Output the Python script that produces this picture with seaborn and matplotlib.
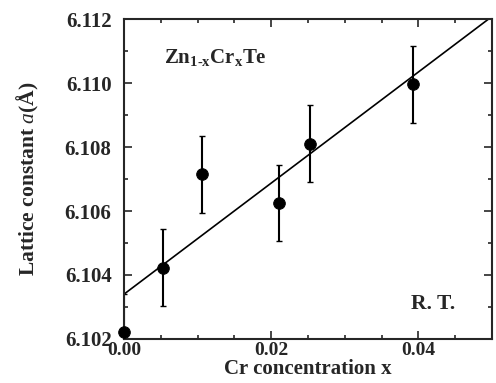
import numpy as np
import pandas as pd
import matplotlib
matplotlib.use("Agg")
import matplotlib.pyplot as plt
from matplotlib.ticker import MultipleLocator
import seaborn as sns

# data
cr_x = [0.0, 0.0053, 0.0106, 0.0210, 0.0253, 0.0393]
lattice_a = [6.10222, 6.10423, 6.10715, 6.10625, 6.10810, 6.10996]
lattice_err = [0.0012, 0.0012, 0.0012, 0.0012, 0.0012, 0.0012]
fit_x = [0.0, 0.0495]
fit_intercept = 6.1034
fit_slope = 0.1737

x_ticks = [0.00, 0.02, 0.04]
x_ticklabels = ["0.00", "0.02", "0.04"]
y_ticks = [6.102, 6.104, 6.106, 6.108, 6.110, 6.112]
y_ticklabels = ["6.102", "6.104", "6.106", "6.108", "6.110", "6.112"]

sns.set_style("ticks")
plt.rcParams['font.family'] = ['Liberation Serif', 'DejaVu Serif']
plt.rcParams['mathtext.fontset'] = 'custom'
plt.rcParams['mathtext.it'] = 'Liberation Serif:italic'
plt.rcParams['mathtext.rm'] = 'Liberation Serif'
plt.rcParams['mathtext.bf'] = 'Liberation Serif:bold'

fig = plt.figure(figsize=(4.96, 3.83), dpi=100)
ax = fig.add_axes([0.25, 0.115, 0.742, 0.835])

df = pd.DataFrame({"x": cr_x, "a": lattice_a, "err": lattice_err})
fit_df = pd.DataFrame({"x": fit_x, "a": [fit_intercept + fit_slope * v for v in fit_x]})

sns.lineplot(data=fit_df, x="x", y="a", ax=ax, color="black", linewidth=1.2)
ax.errorbar(df["x"], df["a"], yerr=df["err"], fmt="none", ecolor="black",
            elinewidth=1.5, capsize=2, capthick=1.0)
sns.scatterplot(data=df, x="x", y="a", ax=ax, color="black", s=70,
                edgecolor="black", zorder=5, clip_on=False)

ax.set_xlim(0, 0.05)
ax.set_ylim(6.102, 6.112)
ax.set_xticks(x_ticks)
ax.set_xticklabels(x_ticklabels)
ax.set_yticks(y_ticks)
ax.set_yticklabels(y_ticklabels)
ax.xaxis.set_minor_locator(MultipleLocator(0.005))
ax.yaxis.set_minor_locator(MultipleLocator(0.001))
ax.tick_params(which="both", direction="in", top=True, right=True, width=1.2,
               labelsize=15)
ax.tick_params(which="major", length=6)
ax.tick_params(which="minor", length=3)
ax.tick_params(axis="x", which="major", pad=2, labelsize=14)
ax.tick_params(axis="y", which="major", pad=9)
for lbl in ax.get_xticklabels() + ax.get_yticklabels():
    lbl.set_fontweight("bold")
for sp in ax.spines.values():
    sp.set_visible(True)
    sp.set_linewidth(1.5)

ax.set_xlabel("Cr concentration x", fontsize=15, fontweight="bold", labelpad=0)
ax.set_ylabel(r"Lattice constant $a$(Å)", fontsize=15.5, fontweight="bold", labelpad=17)

ax.text(0.11, 0.88, r"Zn$_{\mathbf{1\text{-}x}}$Cr$_{\mathbf{x}}$Te", transform=ax.transAxes,
        fontsize=15, fontweight="bold", va="center")
ax.text(0.78, 0.11, "R. T.", transform=ax.transAxes, fontsize=15.5,
        fontweight="bold", va="center")

fig.savefig("out.png", dpi=100)
